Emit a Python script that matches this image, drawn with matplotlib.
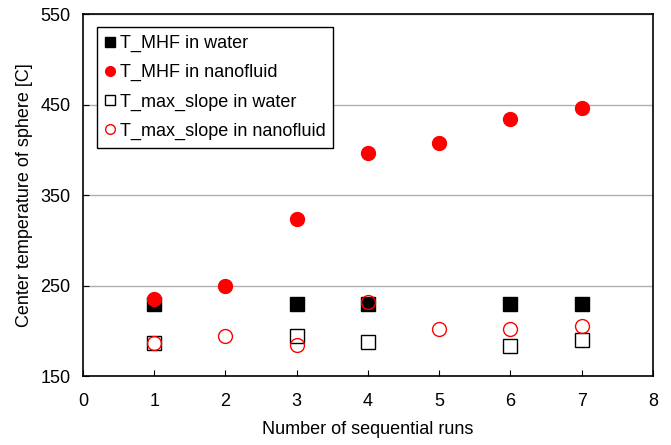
import matplotlib
matplotlib.use('Agg')
import matplotlib.pyplot as plt

plt.rcParams['font.family'] = ['Liberation Sans', 'DejaVu Sans']

runs_mhf_water = [1, 3, 4, 6, 7]
mhf_water = [230, 230, 230, 230, 230]
runs_mhf_nano = [1, 2, 3, 4, 5, 6, 7]
mhf_nano = [235, 249, 324, 396, 408, 434, 446]
runs_slope_water = [1, 3, 4, 6, 7]
slope_water = [186, 194, 188, 183, 190]
runs_slope_nano = [1, 2, 3, 4, 5, 6, 7]
slope_nano = [186, 194, 184, 232, 202, 202, 205]

fig = plt.figure(figsize=(6.71, 4.45), dpi=100)
ax = fig.add_axes([0.1237, 0.155, 0.8493, 0.8135])

ax.plot(runs_mhf_water, mhf_water, 's', color='black', ms=10, label='T_MHF in water')
ax.plot(runs_mhf_nano, mhf_nano, 'o', color='red', ms=10, label='T_MHF in nanofluid')
ax.plot(runs_slope_water, slope_water, 's', mfc='none', mec='black', mew=1, ms=10,
        label='T_max_slope in water')
ax.plot(runs_slope_nano, slope_nano, 'o', mfc='none', mec='red', mew=1, ms=10,
        label='T_max_slope in nanofluid')

ax.set_xlim(0, 8)
ax.set_ylim(150, 550)
ax.set_yticks([150, 250, 350, 450, 550])
ax.set_xticks(range(0, 9))
ax.yaxis.grid(True, color='#b0b0b0', lw=1)
ax.set_axisbelow(True)
ax.tick_params(direction='in', labelsize=13, length=4)
ax.tick_params(axis='x', pad=12)
ax.tick_params(axis='y', pad=9)
for s in ax.spines.values():
    s.set_linewidth(1.2)

ax.set_xlabel('Number of sequential runs', fontsize=13, labelpad=8)
ax.set_ylabel('Center temperature of sphere [C]', fontsize=13, labelpad=5)

leg = ax.legend(loc='upper left', fontsize=13, handlelength=0.5, handletextpad=0.3,
                markerscale=0.7, fancybox=False, framealpha=1, edgecolor='black',
                borderaxespad=0, labelspacing=0.66, borderpad=0.45,
                bbox_to_anchor=(0.0246, 0.964))
leg.get_frame().set_linewidth(1)

fig.savefig('out.png', dpi=100)
